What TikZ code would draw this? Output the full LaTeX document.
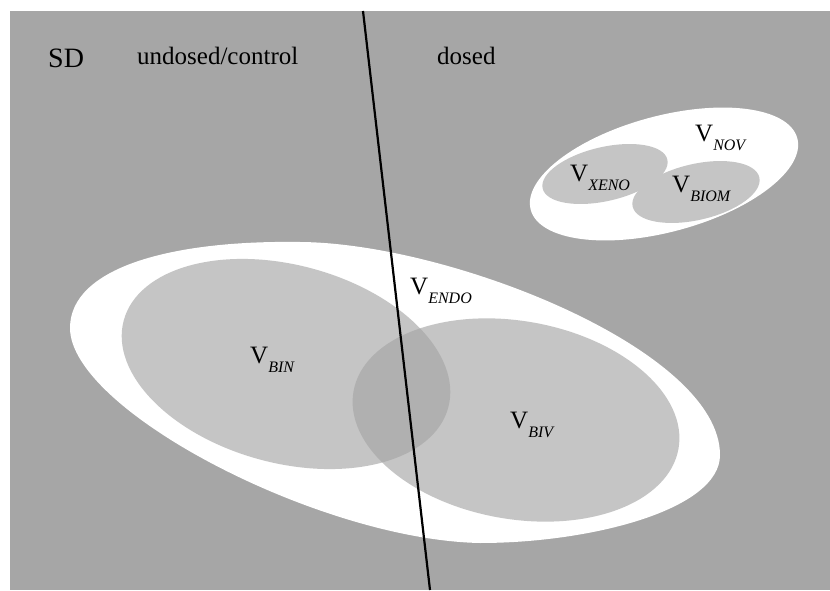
\documentclass[tikz,border=0pt]{standalone}
\usepackage{fontspec}
\setmainfont{Liberation Serif}
\definecolor{field}{RGB}{166,166,166}
\definecolor{setfill}{RGB}{166,166,166}
\definecolor{subset}{RGB}{197,197,197}
\tikzset{
  region/.style={fill=white, draw=none},
  volume/.style={fill=setfill, fill opacity=0.65, draw=none},
  subvol/.style={fill=subset, draw=none},
  heading/.style={inner sep=0pt, anchor=base west, font=\fontsize{25}{25}\selectfont},
  vlabel/.style={inner sep=0pt, anchor=base west, font=\fontsize{25}{25}\selectfont},
}
\newcommand{\vsub}[1]{V\raisebox{-9pt}{\fontsize{16}{16}\selectfont\itshape #1}}
\begin{document}
\begin{tikzpicture}[x=1pt,y=1pt]
  \useasboundingbox (0,0) rectangle (830,590);
  % grey sample space
  \fill[field] (10,0) rectangle (830,579);

  % endogenous volume: egg shape, narrower at the left
  \coordinate (eL) at (70,262);
  \coordinate (eT) at (300,348);
  \coordinate (eR) at (720,135);
  \coordinate (eB) at (480,47);
  \fill[region] (eL) .. controls (70,322) and (170,350) .. (eT)
                     .. controls (450,347) and (720,240) .. (eR)
                     .. controls (720,80) and (590,47) .. (eB)
                     .. controls (320,50) and (70,180) .. (eL) -- cycle;

  % biological volumes, their overlap darker
  \fill[volume] (286,226) ellipse [x radius=168, y radius=99, rotate=-15];
  \fill[volume] (516,170) ellipse [x radius=165, y radius=99, rotate=-10];

  % novel volume with its two parts
  \fill[region] (664,416) ellipse [x radius=138, y radius=58, rotate=15];
  \fill[subvol] (605,416) ellipse [x radius=64, y radius=27, rotate=13];
  \fill[subvol] (696,398) ellipse [x radius=65, y radius=28, rotate=13];

  % headings
  \node[heading, font=\fontsize{28}{28}\selectfont] (sd) at (48,522) {SD};
  \node[heading] (ctrl) at (137,525) {undosed/control};
  \node[heading] (dosed) at (437,525) {dosed};

  % volume labels
  \node[vlabel] (xeno) at (570,408) {\vsub{XENO}};
  \node[vlabel] (nov)  at (695,448) {\vsub{NOV}};
  \node[vlabel] (biom) at (672,397) {\vsub{BIOM}};
  \node[vlabel] (endo) at (410,295) {\vsub{ENDO}};
  \node[vlabel] (bin)  at (250,227) {\vsub{BIN}};
  \node[vlabel] (biv)  at (510,162) {\vsub{BIV}};

  % dividing line between undosed and dosed
  \coordinate (divtop) at (363,579);
  \coordinate (divbot) at (430,0);
  \draw[line width=2.2pt, black] (divtop) -- (divbot);
\end{tikzpicture}
\end{document}
